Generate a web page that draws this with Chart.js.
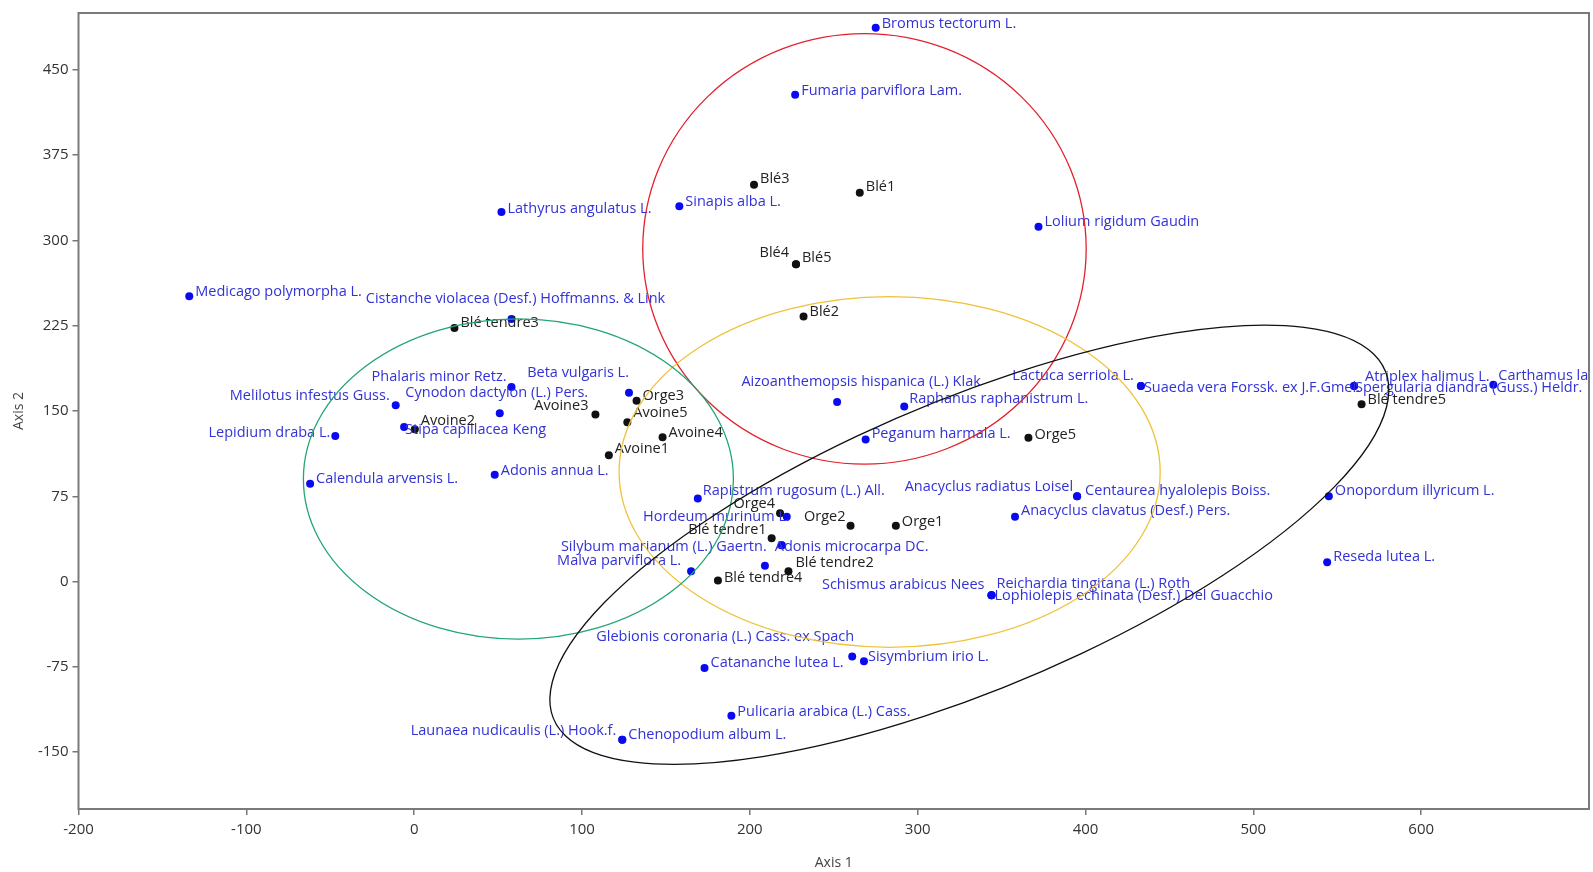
<!DOCTYPE html>
<html>
<head>
<meta charset="utf-8">
<script src="https://cdn.jsdelivr.net/npm/chart.js@4.4.0/dist/chart.umd.min.js"></script>
<style>
  html, body { margin: 0; padding: 0; background: #fff; }
  #wrap { width: 1593px; height: 872px; }
</style>
</head>
<body>
<div id="wrap"><canvas id="cca"></canvas></div>
<script>
// axis ticks
const xTicks = [-200, -100, 0, 100, 200, 300, 400, 500, 600];
const yTicks = [-150, -75, 0, 75, 150, 225, 300, 375, 450];

// species (blue)
const speciesNames = [
  'Bromus tectorum L.', 'Fumaria parviflora Lam.', 'Sinapis alba L.', 'Lolium rigidum Gaudin',
  'Lathyrus angulatus L.', 'Medicago polymorpha L.', 'Cistanche violacea (Desf.) Hoffmanns. & Link',
  'Melilotus infestus Guss.', 'Lepidium draba L.', 'Calendula arvensis L.', 'Stipa capillacea Keng',
  'Cynodon dactylon (L.) Pers.', 'Phalaris minor Retz.', 'Beta vulgaris L.', 'Adonis annua L.',
  'Aizoanthemopsis hispanica (L.) Klak', 'Raphanus raphanistrum L.', 'Peganum harmala L.',
  'Rapistrum rugosum (L.) All.', 'Hordeum murinum L.', 'Adonis microcarpa DC.',
  'Silybum marianum (L.) Gaertn.', 'Malva parviflora L.', '',
  'Anacyclus radiatus Loisel', 'Centaurea hyalolepis Boiss.', 'Anacyclus clavatus (Desf.) Pers.',
  'Lactuca serriola L.', 'Suaeda vera Forssk. ex J.F.Gmel.', 'Atriplex halimus L.',
  'Spergularia diandra (Guss.) Heldr.', 'Carthamus lanatus L.', 'Onopordum illyricum L.',
  'Reseda lutea L.', 'Schismus arabicus Nees', 'Reichardia tingitana (L.) Roth',
  'Lophiolepis echinata (Desf.) Del Guacchio', 'Glebionis coronaria (L.) Cass. ex Spach',
  'Sisymbrium irio L.', 'Catananche lutea L.', 'Pulicaria arabica (L.) Cass.',
  'Chenopodium album L.', 'Launaea nudicaulis (L.) Hook.f.'
];
const speciesX = [275, 227, 158, 372, 52, -134, 58, -11, -47, -62, -6, 51, 58, 128, 48,
  252, 292, 269, 169, 222, 219, 219, 165, 209, 395, 395, 358, 433, 433, 560, 560, 643, 545,
  544, 344, 344, 344, 261, 268, 173, 189, 124, 124];
const speciesY = [487, 428, 330, 312, 325, 251, 231, 155, 128, 86, 136, 148, 171, 166, 94,
  158, 154, 125, 73, 57, 32, 32, 9, 14, 75, 75, 57, 172, 172, 172, 172, 173, 75,
  17, -12, -12, -12, -66, -70, -76, -118, -139, -139];
// label placement: side, dx, dy (px)
const speciesLabelPos = [
  ['R', 6, -4], ['R', 6, -4], ['R', 6, -4], ['R', 6, -5], ['R', 6, -3], ['R', 6, -4], ['C', 4, -20],
  ['L', -6, -9], ['L', -5, -3], ['R', 6, -5], ['R', 1, 3], ['C', -3, -20], ['L', -5, -10],
  ['L', 0, -20], ['R', 6, -4], ['C', 24, -20], ['R', 5, -8], ['R', 6, -6], ['R', 5, -8],
  ['L', 3, 0], ['R', -7, 2], ['L', -15, 2], ['L', -10, -10], ['R', 0, 0], ['L', -4, -9],
  ['R', 8, -5], ['R', 6, -6], ['L', -7, -10], ['R', 3, 2], ['R', 11, -9], ['R', 1, 2],
  ['R', 5, -9], ['R', 6, -5], ['R', 6, -5], ['L', -7, -10], ['R', 5, -11], ['R', 3, 1],
  ['L', 2, -20], ['R', 4, -4], ['R', 6, -5], ['R', 6, -4], ['R', 6, -5], ['L', -6, -9]
];

// samples (black)
const sampleNames = ['Blé1', 'Blé2', 'Blé3', 'Blé4', 'Blé5', 'Blé tendre1', 'Blé tendre2',
  'Blé tendre3', 'Blé tendre4', 'Blé tendre5', 'Orge1', 'Orge2', 'Orge3', 'Orge4', 'Orge5',
  'Avoine1', 'Avoine2', 'Avoine3', 'Avoine4', 'Avoine5'];
const sampleX = [265.5, 232, 202.5, 227.5, 227.5, 213, 223, 24, 181, 564.5, 287, 260, 132.5,
  218, 366, 116, 0.4, 108, 148, 127];
const sampleY = [342, 233, 349, 279, 279, 38, 9, 223, 1, 156, 49, 49, 159, 60, 126.5, 111,
  134, 147, 127, 140];
const sampleLabelPos = [
  ['R', 6, -6], ['R', 6, -5], ['R', 6, -6], ['L', -7, -11], ['R', 6, -6], ['L', -5, -8],
  ['R', 7, -8], ['R', 6, -5], ['R', 6, -3], ['R', 6, -4], ['R', 6, -4], ['L', -5, -9],
  ['R', 6, -5], ['L', -5, -9], ['R', 6, -3], ['R', 6, -6], ['R', 6, -8], ['L', -7, -9],
  ['R', 6, -4], ['R', 6, -9]
];

// group ellipses (data units, angle in degrees)
const ellipseCx = [268.3, 283.3, 62.1, 330.8];
const ellipseCy = [292.6, 96.4, 90.2, 32.4];
const ellipseRx = [132.1, 161.2, 128.1, 293.5];
const ellipseRy = [189.3, 154.2, 140.8, 116.7];
const ellipseAngle = [0, 0, 0, 34.85];
const ellipseColors = ['#e3202c', '#efc23a', '#1fa672', '#111111'];

const FONT = '"Open Sans", "Noto Sans", sans-serif';

const toPoints = (xs, ys) => xs.map((x, i) => ({ x: x, y: ys[i] }));

// labels next to points
const labelPlugin = {
  id: 'pointLabels',
  afterDatasetsDraw(chart) {
    const ctx = chart.ctx;
    const area = chart.chartArea;
    const groups = [
      { names: speciesNames, pos: speciesLabelPos, color: '#3232d6' },
      { names: sampleNames, pos: sampleLabelPos, color: '#222222' }
    ];
    ctx.save();
    ctx.beginPath();
    ctx.rect(area.left, area.top, area.right - area.left, area.bottom - area.top);
    ctx.clip();
    ctx.font = '14.5px ' + FONT;
    ctx.textBaseline = 'middle';
    groups.forEach((g, di) => {
      const meta = chart.getDatasetMeta(di);
      ctx.fillStyle = g.color;
      meta.data.forEach((pt, j) => {
        if (!g.names[j]) return;
        const p = g.pos[j];
        ctx.textAlign = p[0] === 'R' ? 'left' : (p[0] === 'L' ? 'right' : 'center');
        ctx.fillText(g.names[j], pt.x + p[1], pt.y + p[2]);
      });
    });
    ctx.restore();
  }
};

// ellipses and frame
const ellipsePlugin = {
  id: 'groupEllipses',
  afterDatasetsDraw(chart) {
    const { ctx, chartArea: area, scales: { x, y } } = chart;
    const kx = x.getPixelForValue(1) - x.getPixelForValue(0);
    const ky = y.getPixelForValue(0) - y.getPixelForValue(1);
    ctx.save();
    ctx.beginPath();
    ctx.rect(area.left, area.top, area.right - area.left, area.bottom - area.top);
    ctx.clip();
    ellipseCx.forEach((cx, i) => {
      ctx.save();
      ctx.beginPath();
      ctx.translate(x.getPixelForValue(cx), y.getPixelForValue(ellipseCy[i]));
      ctx.scale(kx, -ky);
      ctx.rotate(ellipseAngle[i] * Math.PI / 180);
      ctx.ellipse(0, 0, ellipseRx[i], ellipseRy[i], 0, 0, Math.PI * 2);
      ctx.restore();
      ctx.strokeStyle = ellipseColors[i];
      ctx.lineWidth = 1.3;
      ctx.stroke();
    });
    ctx.restore();

    // frame
    ctx.save();
    ctx.strokeStyle = '#7a7a7a';
    ctx.lineWidth = 2;
    ctx.strokeRect(area.left, area.top, area.right - area.left, area.bottom - area.top);
    ctx.restore();
  }
};

const chart = new Chart(document.getElementById('cca'), {
  type: 'scatter',
  data: {
    datasets: [
      {
        label: 'Species',
        data: toPoints(speciesX, speciesY),
        backgroundColor: '#0a0af0',
        borderWidth: 0,
        pointRadius: 4
      },
      {
        label: 'Samples',
        data: toPoints(sampleX, sampleY),
        backgroundColor: '#111111',
        borderWidth: 0,
        pointRadius: 4
      }
    ]
  },
  options: {
    responsive: true,
    maintainAspectRatio: false,
    animation: false,
    layout: { padding: { top: 10, right: 4, left: 0, bottom: 0 } },
    plugins: {
      legend: { display: false },
      tooltip: { enabled: false }
    },
    scales: {
      x: {
        type: 'linear',
        min: -200,
        max: 700,
        afterBuildTicks: s => { s.ticks = xTicks.map(v => ({ value: v })); },
        afterFit: s => { s.height = 63; },
        ticks: { color: '#333', font: { size: 15, family: FONT }, padding: 6, maxRotation: 0, autoSkip: false },
        grid: { drawOnChartArea: false, drawTicks: true, tickLength: 6, color: '#777', lineWidth: 1.5 },
        border: { display: false },
        title: { display: true, text: 'Axis 1', color: '#444', font: { size: 14, family: FONT }, padding: { top: 0, bottom: 1 } }
      },
      y: {
        type: 'linear',
        min: -200,
        max: 500,
        afterBuildTicks: s => { s.ticks = yTicks.map(v => ({ value: v })); },
        afterFit: s => { s.width = 78.5; },
        ticks: { color: '#333', font: { size: 15, family: FONT }, padding: 4, autoSkip: false },
        grid: { drawOnChartArea: false, drawTicks: true, tickLength: 6, color: '#777', lineWidth: 1.5 },
        border: { display: false },
        title: { display: true, text: 'Axis 2', color: '#444', font: { size: 14, family: FONT }, padding: { top: 11, bottom: 0 } }
      }
    }
  },
  plugins: [labelPlugin, ellipsePlugin]
});
</script>
</body>
</html>
